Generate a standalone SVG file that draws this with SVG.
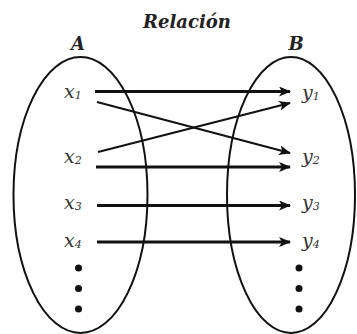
<svg xmlns="http://www.w3.org/2000/svg" width="357" height="334" viewBox="0 0 357 334">
<defs>
<marker id="ah" viewBox="0 0 12 10" refX="11" refY="5" markerWidth="12" markerHeight="10" markerUnits="userSpaceOnUse" orient="auto">
<path d="M0,0 L12,5 L0,10 L3,5 Z" fill="#111"/>
</marker>
<style>
.set{fill:none;stroke:#111;stroke-width:2}
.lbl{font-family:"DejaVu Serif",serif;font-style:italic;fill:#333;font-size:19px}
.sub{font-size:11px}
.ttl{font-family:"DejaVu Serif",serif;font-style:italic;font-weight:bold;fill:#222}
.arr{stroke:#111;fill:none;marker-end:url(#ah)}
.dot{fill:#111}
</style>
</defs>
<rect width="357" height="334" fill="#fff"/>
<text class="ttl" x="187" y="28" font-size="18" text-anchor="middle">Relación</text>
<g id="A">
<ellipse class="set" cx="80.5" cy="195" rx="67" ry="138"/>
<text class="ttl" x="78" y="50" font-size="18" text-anchor="middle">A</text>
<text class="lbl" x="64" y="98">x<tspan class="sub" dy="1">1</tspan></text>
<text class="lbl" x="64" y="163">x<tspan class="sub" dy="1">2</tspan></text>
<text class="lbl" x="64" y="209">x<tspan class="sub" dy="1">3</tspan></text>
<text class="lbl" x="64" y="247">x<tspan class="sub" dy="1">4</tspan></text>
<circle class="dot" cx="78.5" cy="268" r="3.5"/>
<circle class="dot" cx="78.5" cy="288.5" r="3.5"/>
<circle class="dot" cx="78.5" cy="309" r="3.5"/>
</g>
<g id="B">
<ellipse class="set" cx="291" cy="195" rx="64" ry="138"/>
<text class="ttl" x="296" y="50" font-size="18" text-anchor="middle">B</text>
<text class="lbl" x="302" y="99">y<tspan class="sub" dy="1">1</tspan></text>
<text class="lbl" x="302" y="163">y<tspan class="sub" dy="1">2</tspan></text>
<text class="lbl" x="302" y="209">y<tspan class="sub" dy="1">3</tspan></text>
<text class="lbl" x="302" y="247">y<tspan class="sub" dy="1">4</tspan></text>
<circle class="dot" cx="299" cy="268" r="3.5"/>
<circle class="dot" cx="299" cy="288.5" r="3.5"/>
<circle class="dot" cx="299" cy="309" r="3.5"/>
</g>
<g id="connectors">
<line class="arr" x1="95" y1="91.5" x2="290" y2="91.5" stroke-width="3"/>
<line class="arr" x1="97" y1="102" x2="290" y2="153" stroke-width="2"/>
<line class="arr" x1="98" y1="152" x2="290" y2="103" stroke-width="2"/>
<line class="arr" x1="96" y1="167" x2="290" y2="167" stroke-width="3"/>
<line class="arr" x1="97" y1="205.5" x2="290" y2="205.5" stroke-width="3"/>
<line class="arr" x1="97" y1="242" x2="290" y2="242" stroke-width="3"/>
</g>
</svg>
